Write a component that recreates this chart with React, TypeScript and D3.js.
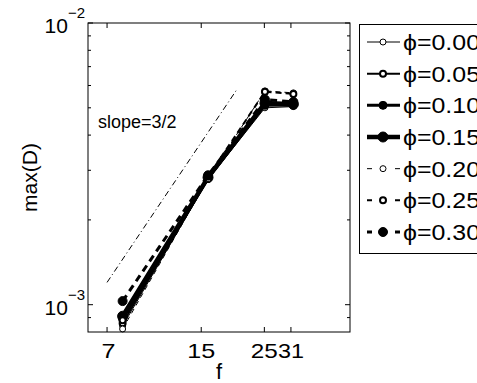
import { useEffect, useRef } from "react";
import * as d3 from "d3";

// frequencies where the runs were sampled
const fValues = [7.94, 15.85, 25.12, 31.62];

const phiLabels = ["0.00", "0.05", "0.10", "0.15", "0.20", "0.25", "0.30"];

// max(D) for every phi, one array per series
const phi000 = [8.4e-4, 2.78e-3, 5.0e-3, 5.05e-3];
const phi005 = [8.6e-4, 2.8e-3, 5.08e-3, 5.1e-3];
const phi010 = [8.9e-4, 2.82e-3, 5.15e-3, 5.12e-3];
const phi015 = [9.1e-4, 2.83e-3, 5.2e-3, 5.15e-3];
const phi020 = [8.2e-4, 2.8e-3, 5.74e-3, 5.65e-3];
const phi025 = [8.8e-4, 2.85e-3, 5.7e-3, 5.6e-3];
const phi030 = [1.03e-3, 2.88e-3, 5.35e-3, 5.25e-3];

const seriesValues = [phi000, phi005, phi010, phi015, phi020, phi025, phi030];

// reference slope line endpoints (f, D)
const slopeF = [7, 20];
const slopeD = [1.2e-3, 5.8e-3];

const xTicks = [7, 15, 25, 31];
const yMajor = [1e-3, 1e-2];
const yMinor = [9e-4, 2e-3, 3e-3, 4e-3, 5e-3, 6e-3, 7e-3, 8e-3, 9e-3];

// line / marker look per series
const styles = [
  { dash: null, lw: 1, r: 3, fill: "white", sw: 1 },
  { dash: null, lw: 2, r: 3, fill: "white", sw: 2 },
  { dash: null, lw: 3, r: 4, fill: "black", sw: 1 },
  { dash: null, lw: 4.5, r: 5, fill: "black", sw: 1 },
  { dash: "5,4", lw: 1, r: 3, fill: "white", sw: 1 },
  { dash: "6,4", lw: 2, r: 3, fill: "white", sw: 2 },
  { dash: "7,5", lw: 3, r: 4.5, fill: "black", sw: 1 },
];

const FONT = "'Liberation Sans', Arial, Helvetica, sans-serif";

export default function App() {
  const svgRef = useRef<SVGSVGElement>(null);

  useEffect(() => {
    if (!svgRef.current) return;
    const svg = d3.select(svgRef.current);
    svg.selectAll("*").remove();

    const left = 88, right = 350, top = 23, bottom = 332;

    const x = d3.scaleLog().domain([6, 50]).range([left, right]);
    const y = d3.scaleLog().domain([8e-4, 1e-2]).range([bottom, top]);

    const g = svg.append("g");

    g.append("rect")
      .attr("x", left).attr("y", top)
      .attr("width", right - left).attr("height", bottom - top)
      .attr("fill", "white");

    // slope reference
    g.append("line")
      .attr("x1", x(slopeF[0])).attr("y1", y(slopeD[0]))
      .attr("x2", x(slopeF[1])).attr("y2", y(slopeD[1]))
      .attr("stroke", "black").attr("stroke-width", 1)
      .attr("stroke-dasharray", "6,3,1,3");

    g.append("text")
      .attr("x", 98).attr("y", 128)
      .attr("font-family", FONT).attr("font-size", 18)
      .text("slope=3/2");

    const line = d3.line<number>()
      .x((_, i) => x(fValues[i]))
      .y((d) => y(d));

    seriesValues.forEach((vals, si) => {
      const st = styles[si];
      g.append("path")
        .attr("d", line(vals))
        .attr("fill", "none")
        .attr("stroke", "black")
        .attr("stroke-width", st.lw)
        .attr("stroke-linejoin", "round")
        .attr("stroke-dasharray", st.dash);
      g.selectAll(null)
        .data(vals)
        .join("circle")
        .attr("cx", (_, i) => x(fValues[i]))
        .attr("cy", (d) => y(d))
        .attr("r", st.r)
        .attr("fill", st.fill)
        .attr("stroke", "black")
        .attr("stroke-width", st.sw);
    });

    // box
    g.append("rect")
      .attr("x", left).attr("y", top)
      .attr("width", right - left).attr("height", bottom - top)
      .attr("fill", "none").attr("stroke", "black").attr("stroke-width", 1);

    // x ticks top + bottom; labels are drawn a bit wide like the original
    const tickLen: Record<number, number> = { 7: 14, 15: 28, 25: 27, 31: 26 };
    xTicks.forEach((t) => {
      const px = x(t);
      g.append("line").attr("x1", px).attr("x2", px)
        .attr("y1", bottom).attr("y2", bottom - 5).attr("stroke", "black");
      g.append("line").attr("x1", px).attr("x2", px)
        .attr("y1", top).attr("y2", top + 5).attr("stroke", "black");
      g.append("text")
        .attr("x", px + (t === 7 ? 1.5 : 0)).attr("y", 358)
        .attr("text-anchor", "middle")
        .attr("font-family", FONT).attr("font-size", 21)
        .attr("textLength", tickLen[t])
        .attr("lengthAdjust", "spacingAndGlyphs")
        .text(t);
    });

    // y ticks
    const yTick = (v: number, len: number) => {
      const py = y(v);
      g.append("line").attr("x1", left).attr("x2", left + len)
        .attr("y1", py).attr("y2", py).attr("stroke", "black");
      g.append("line").attr("x1", right).attr("x2", right - len)
        .attr("y1", py).attr("y2", py).attr("stroke", "black");
    };
    yMinor.forEach((v) => yTick(v, 3));
    yMajor.forEach((v) => {
      yTick(v, 5);
      const py = y(v);
      const exp = Math.round(Math.log10(v));
      const tx = g.append("text")
        .attr("x", 85).attr("y", py + 10)
        .attr("text-anchor", "end")
        .attr("font-family", FONT).attr("font-size", 21);
      tx.append("tspan").text("10");
      tx.append("tspan")
        .attr("font-size", 15).attr("dy", -15)
        .text("\u2212" + Math.abs(exp));
    });

    // axis labels
    g.append("text")
      .attr("x", (left + right) / 2).attr("y", 379)
      .attr("text-anchor", "middle")
      .attr("font-family", FONT).attr("font-size", 22)
      .text("f");
    g.append("text")
      .attr("transform", `translate(37,${(top + bottom) / 2}) rotate(-90)`)
      .attr("text-anchor", "middle")
      .attr("font-family", FONT).attr("font-size", 21)
      .text("max(D)");

    // legend
    const lg = svg.append("g");
    lg.append("rect")
      .attr("x", 359.5).attr("y", 24.5)
      .attr("width", 200).attr("height", 229)
      .attr("fill", "white").attr("stroke", "black").attr("stroke-width", 1);
    const rowY = d3.scaleLinear().domain([0, 6]).range([42, 232]);
    phiLabels.forEach((lab, i) => {
      const st = styles[i];
      const cy = rowY(i);
      lg.append("line")
        .attr("x1", 367).attr("x2", 400)
        .attr("y1", cy).attr("y2", cy)
        .attr("stroke", "black").attr("stroke-width", st.lw)
        .attr("stroke-dasharray", st.dash ? "5,23" : null);
      lg.append("circle")
        .attr("cx", 383).attr("cy", cy).attr("r", st.r)
        .attr("fill", st.fill).attr("stroke", "black")
        .attr("stroke-width", st.sw);
      lg.append("text")
        .attr("x", 403).attr("y", cy + 8)
        .attr("font-family", FONT).attr("font-size", 22)
        .attr("textLength", 77)
        .attr("lengthAdjust", "spacingAndGlyphs")
        .text("\u03d5=" + lab);
    });
  }, []);

  return (
    <svg
      ref={svgRef}
      width={477}
      height={383}
      style={{ position: "absolute", left: 0, top: 0, background: "white" }}
    />
  );
}
